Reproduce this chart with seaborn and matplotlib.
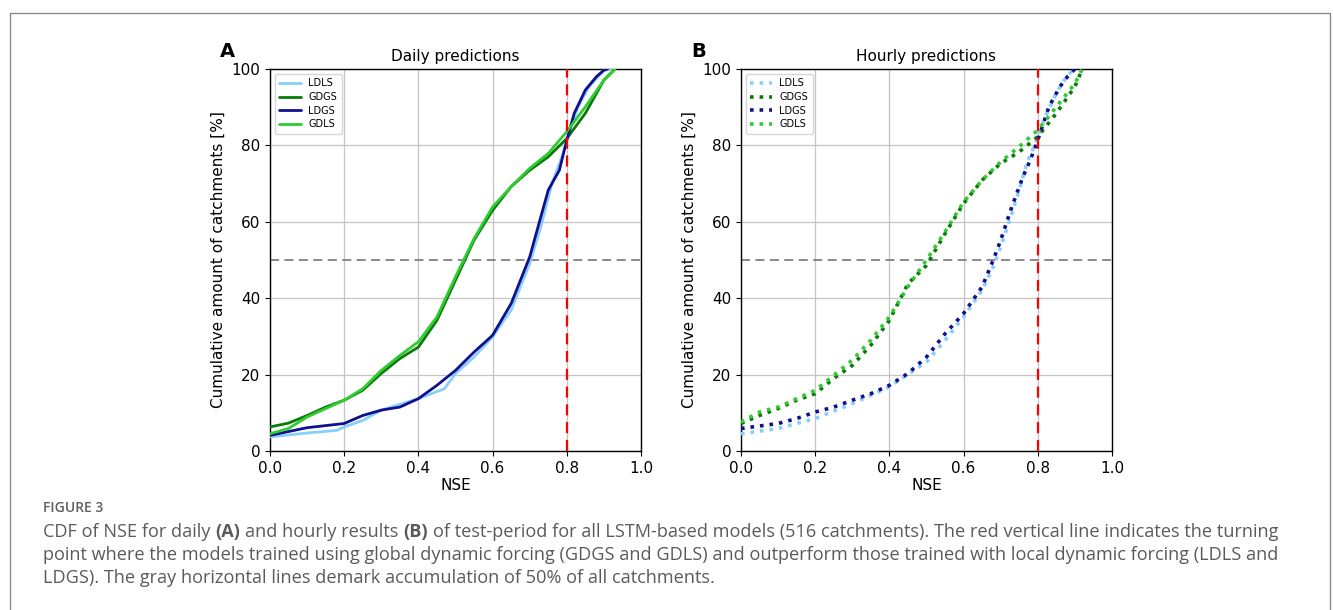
import matplotlib
matplotlib.use("Agg")
import matplotlib.pyplot as plt
import seaborn as sns
import pandas as pd
from matplotlib.patches import Rectangle

# ---- data ----
models = ['LDLS', 'GDGS', 'LDGS', 'GDLS']
colors = {'LDLS': '#87cefa', 'GDGS': '#0a7a0a', 'LDGS': '#10108f', 'GDLS': '#2ecc2e'}

# daily predictions (panel A)
daily_ldls_nse = [0.0, 0.1, 0.18, 0.2, 0.25, 0.3, 0.4, 0.47, 0.5, 0.55, 0.6, 0.65, 0.7, 0.73, 0.76, 0.79, 0.8, 0.83, 0.86, 0.9, 0.92]
daily_ldls_cdf = [3.7, 4.7, 5.4, 6.3, 8.0, 10.7, 13.7, 16.3, 20.3, 24.6, 29.9, 36.9, 49.1, 58.7, 70.0, 77.9, 81.4, 90.0, 95.4, 99.6, 100]
daily_gdgs_nse = [0.0, 0.05, 0.1, 0.15, 0.2, 0.25, 0.3, 0.35, 0.4, 0.45, 0.5, 0.55, 0.6, 0.65, 0.7, 0.75, 0.8, 0.85, 0.9, 0.93]
daily_gdgs_cdf = [6.3, 7.3, 9.3, 11.5, 13.3, 15.9, 20.3, 24.2, 27.2, 34.2, 44.7, 55.2, 63.0, 69.2, 73.5, 77.0, 81.8, 88.4, 97.1, 100]
daily_ldgs_nse = [0.0, 0.02, 0.1, 0.2, 0.25, 0.3, 0.35, 0.4, 0.45, 0.5, 0.55, 0.6, 0.65, 0.7, 0.72, 0.75, 0.78, 0.8, 0.82, 0.85, 0.88, 0.9, 0.91]
daily_ldgs_cdf = [4.1, 4.5, 6.1, 7.2, 9.3, 10.7, 11.5, 13.7, 17.2, 21.1, 25.9, 30.3, 38.6, 50.8, 57.8, 68.3, 73.5, 81.4, 88.4, 94.5, 98.0, 99.7, 100]
daily_gdls_nse = [0.0, 0.05, 0.1, 0.15, 0.2, 0.25, 0.3, 0.35, 0.4, 0.45, 0.5, 0.55, 0.6, 0.65, 0.7, 0.75, 0.8, 0.85, 0.9, 0.93]
daily_gdls_cdf = [4.5, 5.9, 8.9, 11.1, 13.3, 16.3, 21.1, 25.0, 28.6, 35.1, 45.6, 55.6, 63.9, 69.2, 74.0, 77.9, 83.6, 90.1, 97.1, 100]

# hourly predictions (panel B)
hourly_ldls_nse = [0.0, 0.1, 0.2, 0.3, 0.4, 0.5, 0.55, 0.6, 0.65, 0.68, 0.7, 0.73, 0.75, 0.77, 0.79, 0.82, 0.85, 0.88, 0.9]
hourly_ldls_cdf = [4.5, 5.9, 8.5, 12.4, 16.8, 23.3, 29.0, 35.1, 42.1, 48.2, 53.4, 62.2, 68.3, 75.3, 79.7, 87.5, 93.7, 98.4, 100]
hourly_gdgs_nse = [0.0, 0.05, 0.1, 0.15, 0.2, 0.25, 0.3, 0.35, 0.4, 0.45, 0.5, 0.55, 0.6, 0.65, 0.7, 0.75, 0.8, 0.85, 0.9, 0.92]
hourly_gdgs_cdf = [7.2, 9.3, 11.1, 13.3, 15.0, 19.0, 22.4, 27.7, 34.2, 43.8, 48.6, 56.9, 64.8, 70.9, 75.3, 78.3, 82.3, 88.4, 95.4, 100]
hourly_ldgs_nse = [0.0, 0.1, 0.15, 0.2, 0.25, 0.3, 0.35, 0.4, 0.45, 0.5, 0.55, 0.6, 0.65, 0.68, 0.7, 0.73, 0.76, 0.78, 0.8, 0.83, 0.86, 0.88, 0.9]
hourly_ldgs_cdf = [5.9, 7.2, 8.5, 10.2, 11.5, 13.3, 15.0, 17.2, 20.3, 24.6, 30.7, 36.0, 43.0, 50.0, 55.2, 63.9, 71.8, 76.2, 81.4, 90.1, 95.4, 98.0, 100]
hourly_gdls_nse = [0.0, 0.05, 0.1, 0.15, 0.2, 0.25, 0.3, 0.35, 0.4, 0.45, 0.5, 0.55, 0.6, 0.65, 0.7, 0.75, 0.8, 0.85, 0.9, 0.92]
hourly_gdls_cdf = [7.6, 10.2, 11.5, 13.7, 15.9, 19.8, 23.8, 29.0, 35.1, 43.0, 50.0, 57.4, 65.2, 70.9, 75.7, 79.7, 84.0, 90.1, 96.2, 100]

daily = {
    'LDLS': (daily_ldls_nse, daily_ldls_cdf),
    'GDGS': (daily_gdgs_nse, daily_gdgs_cdf),
    'LDGS': (daily_ldgs_nse, daily_ldgs_cdf),
    'GDLS': (daily_gdls_nse, daily_gdls_cdf),
}
hourly = {
    'LDLS': (hourly_ldls_nse, hourly_ldls_cdf),
    'GDGS': (hourly_gdgs_nse, hourly_gdgs_cdf),
    'LDGS': (hourly_ldgs_nse, hourly_ldgs_cdf),
    'GDLS': (hourly_gdls_nse, hourly_gdls_cdf),
}

sns.set_style("ticks")
plt.rcParams['font.family'] = ['DejaVu Sans']
plt.rcParams['text.color'] = 'black'
plt.rcParams['axes.labelcolor'] = 'black'
plt.rcParams['xtick.color'] = 'black'
plt.rcParams['ytick.color'] = 'black'

fig = plt.figure(figsize=(13.33, 6.10), dpi=100)

# outer frame of the figure box
fig.add_artist(Rectangle((10 / 1333, -0.01), 1320 / 1333, 1 - 13 / 610 + 0.01,
                         transform=fig.transFigure, fill=False,
                         edgecolor='#8a8a8a', linewidth=1.0))

axA = fig.add_axes([270 / 1333, 1 - 451 / 610, 371 / 1333, 382 / 610])
axB = fig.add_axes([741 / 1333, 1 - 451 / 610, 371 / 1333, 382 / 610])


def draw_panel(ax, data, style, letter, title):
    ax.grid(True, color='#c4c4c4', linewidth=0.9, zorder=0)
    for m in models:
        x, y = data[m]
        df = pd.DataFrame({'NSE': x, 'cdf': y})
        sns.lineplot(data=df, x='NSE', y='cdf', ax=ax, color=colors[m],
                     linestyle=style, linewidth=2.0 if style == '-' else 2.6,
                     label=m, sort=False, estimator=None, zorder=3)
    ax.axhline(50, color='#808080', linestyle=(0, (5, 3)), linewidth=1.3, zorder=2)
    ax.axvline(0.8, color='red', linestyle=(0, (5, 3)), linewidth=1.6, zorder=4)
    ax.set_xlim(0, 1)
    ax.set_ylim(0, 100)
    ax.set_xticks([0.0, 0.2, 0.4, 0.6, 0.8, 1.0])
    ax.set_yticks([0, 20, 40, 60, 80, 100])
    ax.tick_params(labelsize=11, length=3.5, color='black')
    for s in ax.spines.values():
        s.set_color('black')
        s.set_linewidth(1.0)
    ax.set_xlabel('NSE', fontsize=11, labelpad=2)
    ax.set_ylabel('Cumulative amount of catchments [%]', fontsize=11, labelpad=4)
    ax.set_title(title, fontsize=11, pad=6)
    ax.text(-0.135, 1.045, letter, transform=ax.transAxes, fontsize=14,
            fontweight='bold', va='center', ha='left')
    leg = ax.legend(loc='upper left', fontsize=7, handlelength=2.2,
                    frameon=True, borderpad=0.45, labelspacing=0.38,
                    handletextpad=0.8, bbox_to_anchor=(0.0, 1.0))
    leg.get_frame().set_edgecolor('#cccccc')


draw_panel(axA, daily, '-', 'A', 'Daily predictions')
draw_panel(axB, hourly, ':', 'B', 'Hourly predictions')

# caption
cap_font = ['Open Sans', 'DejaVu Sans']
cap_col = '#5a5a5a'
fig.text(43 / 1333, 1 - 508 / 610, 'FIGURE 3', fontsize=10, color='#5f5f5f',
         family=cap_font, fontweight='semibold', va='center')

fs = 13.1
line_y = [532, 555, 578]
lines = [
    [("CDF of NSE for daily", 'normal'), ("(A)", 'bold'), ("and hourly results", 'normal'),
     ("(B)", 'bold'),
     ("of test-period for all LSTM-based models (516 catchments). The red vertical line indicates the turning", 'normal')],
    [("point where the models trained using global dynamic forcing (GDGS and GDLS) and outperform those trained with local dynamic forcing (LDLS and", 'normal')],
    [("LDGS). The gray horizontal lines demark accumulation of 50% of all catchments.", 'normal')],
]
for yy, pieces in zip(line_y, lines):
    prev = fig.text(43 / 1333, 1 - yy / 610, pieces[0][0], fontsize=fs, color=cap_col,
                    family=cap_font, fontweight=pieces[0][1], va='center')
    for txt, w in pieces[1:]:
        prev = axA.annotate(txt, xy=(1, 0.5), xycoords=prev, xytext=(3.6, 0),
                            textcoords='offset points', fontsize=fs, color=cap_col,
                            family=cap_font, fontweight=w, va='center', ha='left',
                            annotation_clip=False)

fig.savefig('out.png', dpi=100)
